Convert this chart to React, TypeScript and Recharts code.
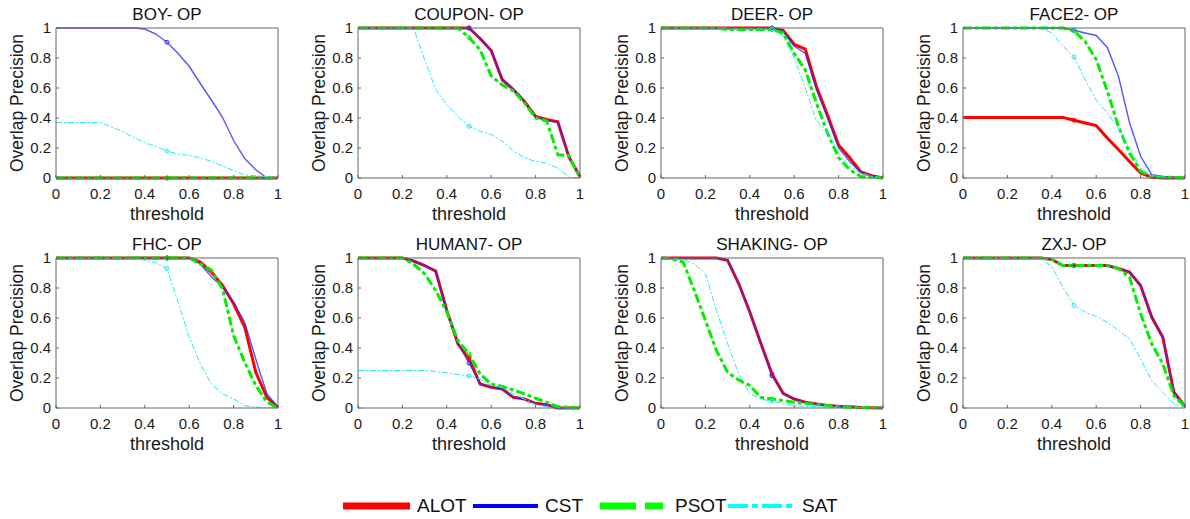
import { LineChart, Line, XAxis, YAxis } from 'recharts'

const thresholds = [0, 0.05, 0.1, 0.15, 0.2, 0.25, 0.3, 0.35, 0.4, 0.45, 0.5, 0.55, 0.6, 0.65, 0.7, 0.75, 0.8, 0.85, 0.9, 0.95, 1]
const axisTicks = [0, 0.2, 0.4, 0.6, 0.8, 1]

// BOY
const boyAlot = [0, 0, 0, 0, 0, 0, 0, 0, 0, 0, 0, 0, 0, 0, 0, 0, 0, 0, 0, 0, 0]
const boyCst = [1, 1, 1, 1, 1, 1, 1, 1, 0.993, 0.96, 0.905, 0.83, 0.745, 0.63, 0.52, 0.405, 0.25, 0.13, 0.055, 0, 0]
const boyPsot = [0, 0, 0, 0, 0, 0, 0, 0, 0, 0, 0, 0, 0, 0, 0, 0, 0, 0, 0, 0, 0]
const boySat = [0.37, 0.37, 0.37, 0.37, 0.37, 0.34, 0.31, 0.27, 0.235, 0.21, 0.18, 0.16, 0.15, 0.135, 0.11, 0.08, 0.05, 0.02, 0.015, 0.008, 0]

// COUPON
const couponAlot = [1, 1, 1, 1, 1, 1, 1, 1, 1, 1, 1, 0.93, 0.85, 0.655, 0.59, 0.51, 0.41, 0.39, 0.375, 0.14, 0.01]
const couponCst = [1, 1, 1, 1, 1, 1, 1, 1, 1, 1, 1, 0.93, 0.85, 0.655, 0.59, 0.51, 0.405, 0.385, 0.37, 0.14, 0.01]
const couponPsot = [1, 1, 1, 1, 1, 1, 1, 1, 1, 1, 0.938, 0.855, 0.68, 0.62, 0.58, 0.5, 0.4, 0.38, 0.155, 0.15, 0]
const couponSat = [1, 1, 1, 1, 1, 1, 0.79, 0.59, 0.49, 0.41, 0.345, 0.31, 0.29, 0.245, 0.18, 0.135, 0.11, 0.1, 0.065, 0.005, 0]

// DEER
const deerAlot = [1, 1, 1, 1, 1, 1, 1, 1, 1, 1, 1, 0.985, 0.89, 0.86, 0.61, 0.42, 0.22, 0.135, 0.04, 0.015, 0]
const deerCst = [1, 1, 1, 1, 1, 1, 1, 1, 1, 1, 1, 0.98, 0.88, 0.83, 0.59, 0.4, 0.2, 0.11, 0.038, 0.012, 0]
const deerPsot = [1, 1, 1, 1, 1, 1, 0.99, 0.99, 0.99, 0.99, 0.99, 0.967, 0.83, 0.72, 0.5, 0.3, 0.135, 0.055, 0.01, 0.005, 0]
const deerSat = [1, 1, 1, 1, 1, 1, 1, 0.995, 0.995, 0.995, 0.995, 0.945, 0.8, 0.6, 0.38, 0.31, 0.165, 0.08, 0.035, 0.01, 0]

// FACE2
const face2Alot = [0.404, 0.404, 0.404, 0.404, 0.404, 0.404, 0.404, 0.404, 0.404, 0.404, 0.385, 0.367, 0.35, 0.267, 0.19, 0.11, 0.033, 0.005, 0, 0, 0]
const face2Cst = [1, 1, 1, 1, 1, 1, 1, 1, 1, 1, 0.985, 0.967, 0.95, 0.87, 0.68, 0.37, 0.145, 0.022, 0.01, 0.005, 0]
const face2Psot = [1, 1, 1, 1, 1, 1, 1, 1, 1, 1, 0.982, 0.91, 0.79, 0.58, 0.345, 0.167, 0.045, 0.01, 0.005, 0.005, 0]
const face2Sat = [1, 1, 1, 1, 1, 1, 1, 1, 0.967, 0.88, 0.807, 0.655, 0.52, 0.433, 0.333, 0.2, 0.067, 0.015, 0.005, 0.003, 0]

// FHC
const fhcAlot = [1, 1, 1, 1, 1, 1, 1, 1, 1, 1, 1, 1, 1, 0.973, 0.906, 0.817, 0.695, 0.54, 0.238, 0.071, 0.005]
const fhcCst = [1, 1, 1, 1, 1, 1, 1, 1, 1, 1, 1, 1, 1, 0.96, 0.875, 0.806, 0.706, 0.572, 0.327, 0.094, 0.005]
const fhcPsot = [1, 1, 1, 1, 1, 1, 1, 1, 1, 1, 1, 1, 1, 0.96, 0.92, 0.795, 0.483, 0.305, 0.15, 0.04, 0]
const fhcSat = [1, 1, 1, 1, 1, 1, 1, 0.996, 0.985, 0.967, 0.93, 0.706, 0.472, 0.294, 0.16, 0.094, 0.06, 0.016, 0.005, 0.003, 0]

// HUMAN7
const human7Alot = [1, 1, 1, 1, 1, 0.98, 0.95, 0.913, 0.65, 0.428, 0.33, 0.16, 0.138, 0.127, 0.071, 0.06, 0.031, 0.022, 0, 0, 0]
const human7Cst = [1, 1, 1, 1, 1, 0.98, 0.95, 0.913, 0.65, 0.428, 0.3, 0.16, 0.138, 0.127, 0.071, 0.06, 0.031, 0.022, 0, 0, 0]
const human7Psot = [1, 1, 1, 1, 1, 0.96, 0.895, 0.784, 0.64, 0.45, 0.36, 0.227, 0.16, 0.143, 0.12, 0.094, 0.065, 0.038, 0.009, 0.004, 0]
const human7Sat = [0.25, 0.25, 0.25, 0.25, 0.25, 0.25, 0.25, 0.243, 0.234, 0.223, 0.212, 0.194, 0.15, 0.138, 0.094, 0.06, 0.022, 0.009, 0.002, 0, 0]

// SHAKING
const shakingAlot = [1, 1, 1, 1, 1, 1, 0.985, 0.83, 0.64, 0.43, 0.227, 0.098, 0.06, 0.038, 0.027, 0.016, 0.011, 0.009, 0.004, 0.002, 0]
const shakingCst = [1, 1, 1, 1, 1, 1, 0.985, 0.83, 0.64, 0.43, 0.215, 0.098, 0.06, 0.038, 0.027, 0.016, 0.011, 0.009, 0.004, 0.002, 0]
const shakingPsot = [1, 0.993, 0.973, 0.784, 0.584, 0.383, 0.238, 0.187, 0.15, 0.071, 0.06, 0.049, 0.038, 0.031, 0.022, 0.016, 0.009, 0.006, 0.004, 0.002, 0]
const shakingSat = [1, 1, 0.99, 0.96, 0.895, 0.65, 0.43, 0.227, 0.094, 0.06, 0.045, 0.027, 0.016, 0.011, 0.009, 0.007, 0.005, 0.003, 0.003, 0.002, 0]

// ZXJ
const zxjAlot = [1, 1, 1, 1, 1, 1, 1, 1, 0.99, 0.95, 0.95, 0.95, 0.95, 0.95, 0.93, 0.906, 0.817, 0.606, 0.472, 0.105, 0.01]
const zxjCst = [1, 1, 1, 1, 1, 1, 1, 1, 0.99, 0.95, 0.95, 0.95, 0.95, 0.95, 0.93, 0.906, 0.817, 0.606, 0.472, 0.105, 0.01]
const zxjPsot = [1, 1, 1, 1, 1, 1, 1, 1, 0.99, 0.95, 0.95, 0.95, 0.95, 0.95, 0.93, 0.873, 0.628, 0.428, 0.294, 0.082, 0.01]
const zxjSat = [1, 1, 1, 1, 1, 1, 1, 1, 0.94, 0.806, 0.684, 0.64, 0.61, 0.572, 0.517, 0.461, 0.327, 0.183, 0.105, 0.027, 0.004]

const panels = [
  { title: 'BOY- OP', alot: boyAlot, cst: boyCst, psot: boyPsot, sat: boySat },
  { title: 'COUPON- OP', alot: couponAlot, cst: couponCst, psot: couponPsot, sat: couponSat },
  { title: 'DEER- OP', alot: deerAlot, cst: deerCst, psot: deerPsot, sat: deerSat },
  { title: 'FACE2- OP', alot: face2Alot, cst: face2Cst, psot: face2Psot, sat: face2Sat },
  { title: 'FHC- OP', alot: fhcAlot, cst: fhcCst, psot: fhcPsot, sat: fhcSat },
  { title: 'HUMAN7- OP', alot: human7Alot, cst: human7Cst, psot: human7Psot, sat: human7Sat },
  { title: 'SHAKING- OP', alot: shakingAlot, cst: shakingCst, psot: shakingPsot, sat: shakingSat },
  { title: 'ZXJ- OP', alot: zxjAlot, cst: zxjCst, psot: zxjPsot, sat: zxjSat },
]

const series = [
  { key: 'alot', name: 'ALOT', color: '#ff0000', width: 3, dash: undefined },
  { key: 'cst', name: 'CST', color: '#2a2aff', width: 1.4, dash: undefined },
  { key: 'psot', name: 'PSOT', color: '#00ee00', width: 3, dash: '9 3 4 3' },
  { key: 'sat', name: 'SAT', color: '#22e8ff', width: 1, dash: '6 2 2 2' },
]

const colLeft = [56, 358, 661, 963]
const rowTop = [28, 258]
const PLOT_W = 222
const PLOT_H = 150
const FONT = '"Liberation Sans", Arial, sans-serif'

const fmt = (v: number) => (v === 0 || v === 1 ? String(v) : v.toFixed(1))

function markerDot(color: string) {
  return (props: any) => {
    const { cx, cy, payload, index } = props
    if (payload?.t !== 0.5) return <g key={index} />
    return <circle key={index} cx={cx} cy={cy} r={2} fill="none" stroke={color} strokeWidth={1} />
  }
}

function Panel({ idx }: { idx: number }) {
  const p = panels[idx] as any
  const col = idx % 4
  const row = Math.floor(idx / 4)
  const lx = colLeft[col]
  const ty = rowTop[row]
  const data = thresholds.map((t, i) => ({
    t,
    alot: p.alot[i],
    cst: p.cst[i],
    psot: p.psot[i],
    sat: p.sat[i],
  }))
  const tickStyle = { fontSize: 15, fill: '#1a1a1a', fontFamily: FONT }
  return (
    <>
      <div
        style={{
          position: 'absolute', left: lx, top: ty - 23, width: PLOT_W, textAlign: 'center',
          fontSize: 17, lineHeight: '20px', color: '#111',
        }}
      >
        {p.title}
      </div>
      <div
        style={{
          position: 'absolute', left: lx, top: ty + PLOT_H + 26, width: PLOT_W, textAlign: 'center',
          fontSize: 18, lineHeight: '20px', color: '#1a1a1a',
        }}
      >
        threshold
      </div>
      <div
        style={{
          position: 'absolute', left: lx - 39 - 100, top: ty + PLOT_H / 2 - 10, width: 200, height: 20,
          textAlign: 'center', fontSize: 17.5, lineHeight: '20px', color: '#1a1a1a', transform: 'rotate(-90deg)',
        }}
      >
        Overlap Precision
      </div>
      <div style={{ position: 'absolute', left: lx - 50, top: ty - 28 }}>
        <LineChart width={300} height={230} data={data} margin={{ top: 27, right: 27, bottom: 28, left: 20 }}>
          <XAxis
            dataKey="t" type="number" domain={[0, 1]} ticks={axisTicks} tickFormatter={fmt}
            height={24} tickSize={-3} tickMargin={13} stroke="#666" tick={tickStyle} interval={0}
          />
          <XAxis
            xAxisId="top" orientation="top" dataKey="t" type="number" domain={[0, 1]} ticks={axisTicks}
            height={1} tickSize={-3} tick={false} stroke="#666"
          />
          <YAxis
            type="number" domain={[0, 1]} ticks={axisTicks} tickFormatter={fmt} width={30}
            tickSize={-3} tickMargin={8} stroke="#666" tick={tickStyle} interval={0}
          />
          <YAxis
            yAxisId="right" orientation="right" type="number" domain={[0, 1]} ticks={axisTicks}
            width={1} tickSize={-3} tick={false} stroke="#666"
          />
          {series.map((s) => (
            <Line
              key={s.key}
              dataKey={s.key}
              type="linear"
              stroke={s.color}
              strokeWidth={s.width}
              strokeDasharray={s.dash}
              strokeOpacity={s.key === 'cst' ? 0.8 : 1}
              dot={markerDot(s.color)}
              activeDot={false}
              isAnimationActive={false}
            />
          ))}
        </LineChart>
      </div>
    </>
  )
}

function Legend() {
  const y = 13
  return (
    <div style={{ position: 'absolute', left: 0, top: 493, width: 1190, height: 26 }}>
      <svg width={1190} height={26} style={{ position: 'absolute', left: 0, top: 0 }}>
        <line x1={343} x2={410} y1={y} y2={y} stroke="#ff0000" strokeWidth={7} />
        <line x1={473} x2={538} y1={y} y2={y} stroke="#0000ff" strokeWidth={4} />
        <line x1={600} x2={663} y1={y} y2={y} stroke="#00ff00" strokeWidth={7} strokeDasharray="36 9 18 9" />
        <line x1={728} x2={796} y1={y} y2={y} stroke="#00ffff" strokeWidth={4} strokeDasharray="20 4 6 4" />
      </svg>
      {[
        { name: 'ALOT', x: 417 },
        { name: 'CST', x: 545 },
        { name: 'PSOT', x: 675 },
        { name: 'SAT', x: 802 },
      ].map((l) => (
        <div
          key={l.name}
          style={{ position: 'absolute', left: l.x, top: 1, fontSize: 19, lineHeight: '24px', color: '#111' }}
        >
          {l.name}
        </div>
      ))}
    </div>
  )
}

export default function App() {
  return (
    <div
      style={{
        position: 'absolute', left: 0, top: 0, width: 1190, height: 519, background: '#fff',
        fontFamily: FONT, overflow: 'hidden',
      }}
    >
      {panels.map((_, i) => (
        <Panel key={i} idx={i} />
      ))}
      <Legend />
    </div>
  )
}
